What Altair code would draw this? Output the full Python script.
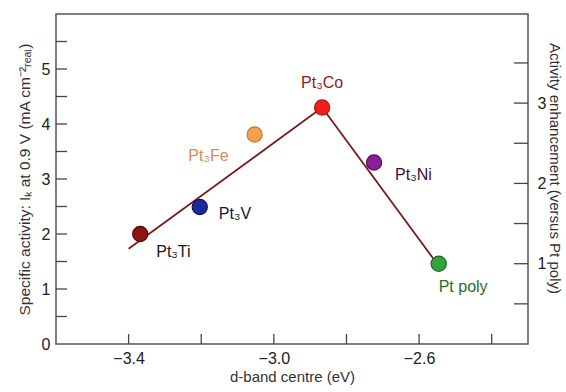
import altair as alt
import pandas as pd

# ---- data ----
names = ["Pt₃Ti", "Pt₃V", "Pt₃Fe", "Pt₃Co", "Pt₃Ni", "Pt poly"]
d_band = [-3.368, -3.204, -3.053, -2.867, -2.724, -2.546]
activity = [2.00, 2.49, 3.81, 4.30, 3.30, 1.46]

# trend line (volcano) vertices
line_x = [-3.40, -2.867, -2.555]
line_y = [1.73, 4.30, 1.50]

# axis tick values
x_ticks = [-3.4, -3.2, -3.0, -2.8, -2.6, -2.4]
x_labels = [-3.4, -3.0, -2.6]
y_ticks = [0.5, 1, 1.5, 2, 2.5, 3, 3.5, 4, 4.5, 5, 5.5]
y_labels = [0, 1, 2, 3, 4, 5]
r_ticks = [0.5, 1, 1.5, 2, 2.5, 3, 3.5]
r_labels = [1, 2, 3]

# ---- styles ----
point_colors = ["#8e1414", "#1c2a9c", "#f5a04c", "#f21d1d", "#8a1f97", "#34a33c"]
stroke_colors = ["#4a0a0a", "#0e1650", "#c8782a", "#b01010", "#4e0d58", "#1a6a22"]
label_colors = ["#2a1212", "#14143c", "#d98a5a", "#8a1c1c", "#3a1236", "#2a6e2a"]
label_off = [(16, 23, "left"), (19, 12, "left"), (-26, 27, "right"), (0, -20, "center"),
             (21, 17, "left"), (0, 28, "left")]
FONT = "Liberation Sans, Arial, sans-serif"

W, H = 472, 330
ptpoly = activity[names.index("Pt poly")]

pts = pd.DataFrame({"name": names, "d": d_band, "act": activity})
line_df = pd.DataFrame({"d": line_x, "act": line_y})
xt_df = pd.DataFrame({"v": x_ticks})
yt_df = pd.DataFrame({"v": y_ticks})
rt_df = pd.DataFrame({"v": r_ticks})

xs = alt.Scale(domain=[-3.6, -2.3], nice=False, zero=False)
ys = alt.Scale(domain=[0, 6], nice=False)
rs = alt.Scale(domain=[0, 6 / ptpoly], nice=False)

x_axis = alt.Axis(values=x_labels, format=".1f", ticks=False, domain=False, grid=False,
                  labelFont=FONT, labelFontSize=16, labelColor="#222", labelPadding=6,
                  title="d-band centre (eV)", titleFont=FONT, titleFontSize=15,
                  titleFontWeight="normal", titleColor="#333", titlePadding=3)
y_axis = alt.Axis(values=y_labels, format="d", ticks=False, domain=False, grid=False,
                  labelFont=FONT, labelFontSize=16, labelColor="#222", labelPadding=6,
                  title="Specific activity: Iₖ at 0.9 V (mA cm⁻²ᵣₑₐₗ)", titleFont=FONT,
                  titleFontSize=15.5, titleFontWeight="normal", titleColor="#333",
                  titlePadding=9)
r_axis = alt.Axis(orient="right", values=r_labels, format="d", ticks=False, domain=False,
                  grid=False, labelFont=FONT, labelFontSize=16, labelColor="#222",
                  labelPadding=9, title="Activity enhancement (versus Pt poly)",
                  titleFont=FONT, titleFontSize=15, titleFontWeight="normal",
                  titleColor="#333", titleAngle=90, titlePadding=1, titleY=154)

X = alt.X("d:Q", scale=xs, axis=x_axis)
Y = alt.Y("act:Q", scale=ys, axis=y_axis)

line = alt.Chart(line_df).mark_line(color="#7a1c1c", strokeWidth=1.8).encode(x=X, y=Y)

points = alt.Chart(pts).mark_circle(size=230, opacity=1, strokeWidth=1.2).encode(
    x=alt.X("d:Q", scale=xs),
    y=alt.Y("act:Q", scale=ys),
    color=alt.Color("name:N", scale=alt.Scale(domain=names, range=point_colors), legend=None),
    stroke=alt.Stroke("name:N", scale=alt.Scale(domain=names, range=stroke_colors), legend=None),
)

labels = []
for n, c, (dx, dy, al) in zip(names, label_colors, label_off):
    labels.append(
        alt.Chart(pts).transform_filter(alt.datum.name == n)
        .mark_text(font=FONT, fontSize=16, color=c, dx=dx, dy=dy, align=al, baseline="alphabetic")
        .encode(x=alt.X("d:Q", scale=xs), y=alt.Y("act:Q", scale=ys), text="name:N")
    )

yticks = alt.Chart(yt_df).mark_rule(color="#444", strokeWidth=1.3).encode(
    x=alt.value(0), x2=alt.value(11), y=alt.Y("v:Q", scale=ys))
xticks = alt.Chart(xt_df).mark_rule(color="#444", strokeWidth=1.3).encode(
    y=alt.value(H), y2=alt.value(H - 10), x=alt.X("v:Q", scale=xs))
rticks = alt.Chart(rt_df).mark_rule(color="#444", strokeWidth=1.3).encode(
    x=alt.value(W - 14), x2=alt.value(W), y=alt.Y("v:Q", scale=rs, axis=r_axis))

left = alt.layer(line, yticks, xticks, points, *labels)
chart = alt.layer(left, rticks).resolve_scale(y="independent").properties(
    width=W, height=H,
    autosize=alt.AutoSizeParams(type="none"),
    padding={"left": 56, "top": 14, "right": 38, "bottom": 48},
    background="white",
).configure_view(stroke="#555", strokeWidth=1.5)

chart.save("out.html", embed_options={"renderer": "svg", "actions": False})
